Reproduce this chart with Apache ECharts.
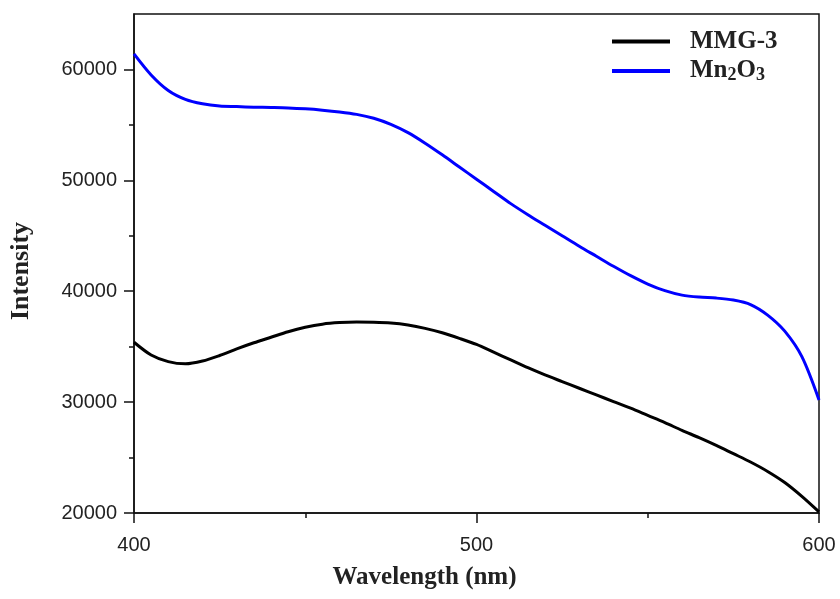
<!DOCTYPE html>
<html>
<head>
<meta charset="utf-8">
<script src="https://cdn.jsdelivr.net/npm/echarts@6/dist/echarts.min.js"></script>
<style>html,body{margin:0;padding:0;background:#fff}#c{width:840px;height:599px}</style>
</head>
<body>
<div id="c"></div>
<script>
const wavelengths = [400,405,410,415,420,425,430,435,440,445,450,455,460,465,470,475,480,485,490,495,500,505,510,515,520,525,530,535,540,545,550,555,560,565,570,575,580,585,590,595,600];
const mmg3 = [35400,34250,33650,33450,33700,34200,34800,35350,35850,36350,36750,37030,37170,37220,37200,37130,36950,36650,36250,35750,35200,34500,33800,33100,32450,31850,31250,30650,30050,29450,28800,28150,27450,26800,26100,25350,24600,23750,22750,21500,20100];
const mn2o3 = [61400,59500,58100,57300,56900,56700,56650,56600,56570,56530,56450,56330,56170,55950,55600,55050,54300,53350,52300,51200,50100,49000,47900,46900,45950,45000,44050,43150,42250,41400,40650,40050,39650,39470,39380,39200,38800,37850,36400,34100,30200];
const yMajorTicks = [20000,30000,40000,50000,60000];
const yMinorTicks = [25000,35000,45000,55000];
const xTicks = [400,500,600];

const chart = echarts.init(document.getElementById('c'), null, {renderer:'canvas'});
const pair = arr => wavelengths.map((w,i)=>[w,arr[i]]);
const serif = 'Liberation Serif, Times New Roman, serif';
const sans = 'Liberation Sans, Arial, sans-serif';
chart.setOption({
  backgroundColor:'#fff',
  animation:false,
  grid:{left:134,right:21,top:14,bottom:86,show:true,borderColor:'#111',borderWidth:1.5,containLabel:false},
  legend:{
    orient:'vertical', left:612, top:29, itemGap:0, padding:0,
    icon:'rect', itemWidth:58, itemHeight:4,
    data:['MMG-3','Mn2O3'],
    formatter: n => n==='Mn2O3' ? '{a|Mn}{s|2}{a|O}{s|3}' : '{a|MMG-3}',
    textStyle:{
      padding:[0,0,0,15],
      rich:{
        a:{fontFamily:serif,fontWeight:'bold',fontSize:25,color:'#222',lineHeight:26},
        s:{fontFamily:serif,fontWeight:'bold',fontSize:18,color:'#222',lineHeight:14,verticalAlign:'bottom',padding:[12,0,0,0]}
      }
    }
  },
  xAxis:{
    type:'value', min:400, max:600, interval:100,
    name:'Wavelength (nm)', nameLocation:'middle', nameGap:52,
    nameTextStyle:{fontFamily:serif,fontWeight:'bold',fontSize:25,color:'#222',padding:[0,104,0,0]},
    axisLine:{show:true,lineStyle:{color:'#111',width:1.5}},
    axisTick:{show:true,inside:false,length:10,lineStyle:{color:'#111',width:1.5}},
    minorTick:{show:true,splitNumber:2,length:5,lineStyle:{color:'#111',width:1.5}},
    axisLabel:{margin:22,fontFamily:sans,fontSize:20,color:'#222',customValues:xTicks,formatter:v=>String(v)},
    splitLine:{show:false}
  },
  yAxis:[{
    type:'value', min:20000, max:65000, interval:10000,
    name:'Intensity', nameLocation:'middle', nameGap:100,
    nameTextStyle:{fontFamily:serif,fontWeight:'bold',fontSize:26,color:'#222',padding:[0,15,0,0]},
    axisLine:{show:true,lineStyle:{color:'#111',width:1.5}},
    axisTick:{show:true,inside:false,length:10,lineStyle:{color:'#111',width:1.5},customValues:yMajorTicks},
    axisLabel:{margin:17,fontFamily:sans,fontSize:20,color:'#222',customValues:yMajorTicks,formatter:v=>String(v)},
    splitLine:{show:false}
  },{
    type:'value', min:20000, max:65000, interval:10000, position:'left',
    axisLine:{show:false},
    axisTick:{show:true,inside:false,length:5,lineStyle:{color:'#111',width:1.5},customValues:yMinorTicks},
    axisLabel:{show:false},
    splitLine:{show:false}
  }],
  series:[
    {name:'MMG-3',type:'line',data:pair(mmg3),smooth:0.3,showSymbol:false,lineStyle:{color:'#000',width:3},itemStyle:{color:'#000'},yAxisIndex:0},
    {name:'Mn2O3',type:'line',data:pair(mn2o3),smooth:0.3,showSymbol:false,lineStyle:{color:'#0000ff',width:3},itemStyle:{color:'#0000ff'},yAxisIndex:0}
  ]
});
</script>
</body>
</html>
